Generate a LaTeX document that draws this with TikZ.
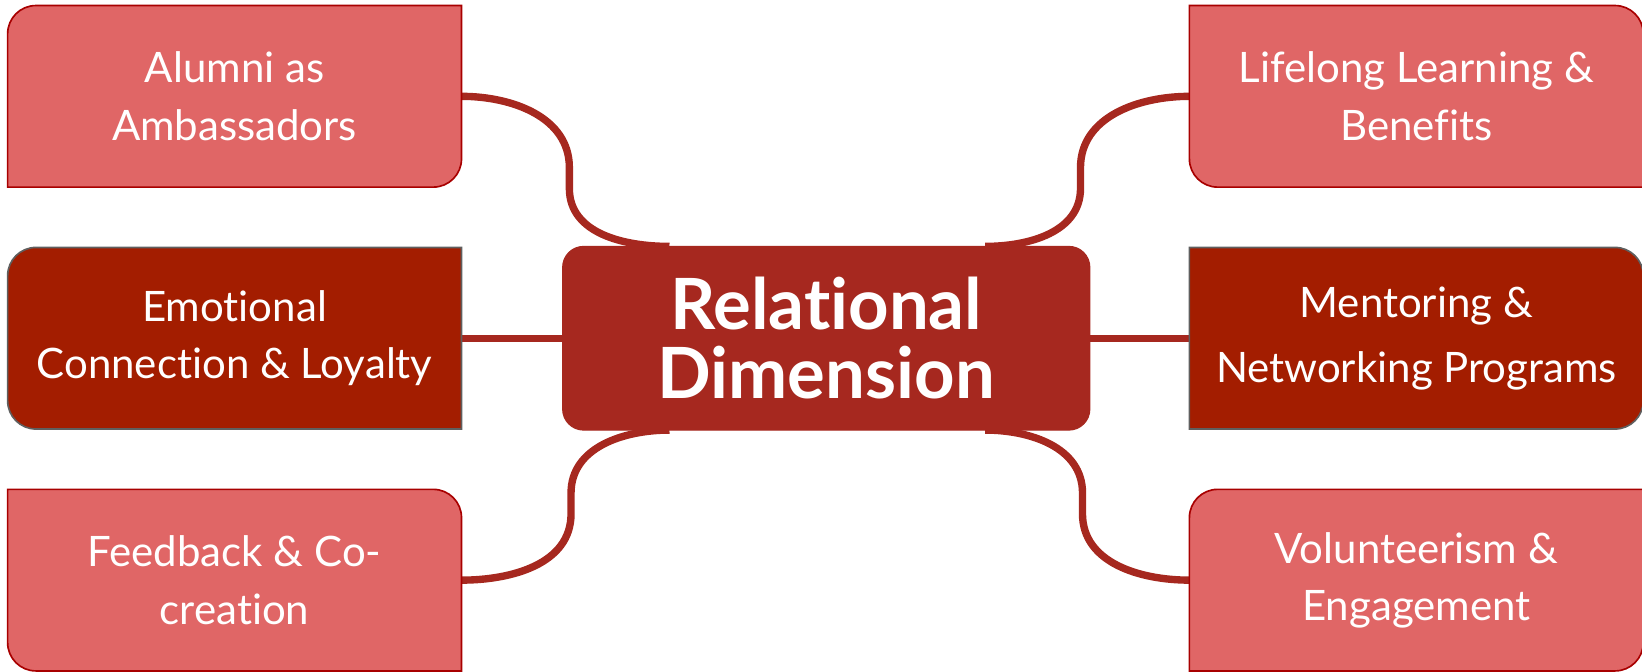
\documentclass[tikz,border=0pt]{standalone}
\usepackage{fontspec}
\setmainfont{Lato}[Ligatures=NoCommon]
\usetikzlibrary{backgrounds}

\definecolor{leaflight}{HTML}{E06666}
\definecolor{leaflightline}{HTML}{A80000}
\definecolor{leafdark}{HTML}{A31D00}
\definecolor{leafdarkline}{HTML}{5F5F5F}
\definecolor{hubred}{HTML}{A6281F}

% box outline, one radius per corner: nw, ne, se, sw
\newcommand{\cornerbox}[6]{%
  \draw[#2] (#1.west) -- ([yshift=-#3]#1.north west) arc[start angle=180, end angle=90, radius=#3]
    -- ([xshift=-#4]#1.north east) arc[start angle=90, end angle=0, radius=#4]
    -- ([yshift=#5]#1.south east) arc[start angle=0, end angle=-90, radius=#5]
    -- ([xshift=#6]#1.south west) arc[start angle=270, end angle=180, radius=#6] -- cycle;}

\tikzset{
  leaf/.style={minimum width=4.32cm, minimum height=1.72cm, inner sep=0pt,
    align=center, text=white, font=\fontsize{11.4}{15.6}\selectfont},
  hub/.style={minimum width=5.02cm, minimum height=1.74cm, inner sep=0pt,
    align=center, text=white, font=\fontsize{19.2}{18.8}\selectfont\bfseries},
  lightbox/.style={fill=leaflight, draw=leaflightline, line width=0.45pt},
  darkbox/.style={fill=leafdark, draw=leafdarkline, line width=0.45pt},
  hubbox/.style={fill=hubred, draw=hubred, line width=0.3pt},
  link/.style={draw=hubred, line width=2pt}
}

\begin{document}
\begin{tikzpicture}
  \useasboundingbox (0,0) rectangle (15.68,6.41);

  % the hub in the middle
  \node[hub] (rd) at (7.89,3.18) {Relational\\Dimension};

  % left column
  \node[leaf] (al) at (2.24,5.49) {Alumni as\\Ambassadors};
  \node[leaf] (em) at (2.24,3.18) {Emotional\\Connection \& Loyalty};
  \node[leaf] (fb) at (2.24,0.87) {Feedback \& Co-\\creation};

  % right column
  \node[leaf] (ll) at (13.525,5.49) {Lifelong Learning \&\\Benefits};
  \node[leaf] (mn) at (13.525,3.18) {Mentoring \&\\[2pt]Networking Programs};
  \node[leaf] (vo) at (13.525,0.87) {Volunteerism \&\\Engagement};

  \begin{scope}[on background layer]
    % connectors
    \draw[link] (al.east) to[out=0,in=90] ++(1.03,-0.68) -- ++(0,-0.2)
      to[out=-90,in=180] ([xshift=1.02cm]rd.north west);
    \draw[link] (ll.west) to[out=180,in=90] ++(-1.04,-0.68) -- ++(0,-0.2)
      to[out=-90,in=0] ([xshift=-1cm]rd.north east);
    \draw[link] ([xshift=1.02cm]rd.south west) to[out=180,in=90] ++(-0.94,-0.6) -- ++(0,-0.2)
      to[out=-90,in=0] (fb.east);
    \draw[link] ([xshift=-1cm]rd.south east) to[out=0,in=90] ++(0.93,-0.6) -- ++(0,-0.2)
      to[out=-90,in=180] (vo.west);
    \draw[link] (em.east) -- (rd.west);
    \draw[link] (rd.east) -- (mn.west);

    % boxes
    \cornerbox{rd}{hubbox}{0.2cm}{0.2cm}{0.2cm}{0.2cm}
    \cornerbox{al}{lightbox}{0.27cm}{0pt}{0.27cm}{0pt}
    \cornerbox{em}{darkbox}{0.27cm}{0pt}{0pt}{0.27cm}
    \cornerbox{fb}{lightbox}{0pt}{0.27cm}{0pt}{0.27cm}
    \cornerbox{ll}{lightbox}{0pt}{0.27cm}{0pt}{0.27cm}
    \cornerbox{mn}{darkbox}{0pt}{0.27cm}{0.27cm}{0pt}
    \cornerbox{vo}{lightbox}{0.27cm}{0pt}{0.27cm}{0pt}
  \end{scope}
\end{tikzpicture}
\end{document}
